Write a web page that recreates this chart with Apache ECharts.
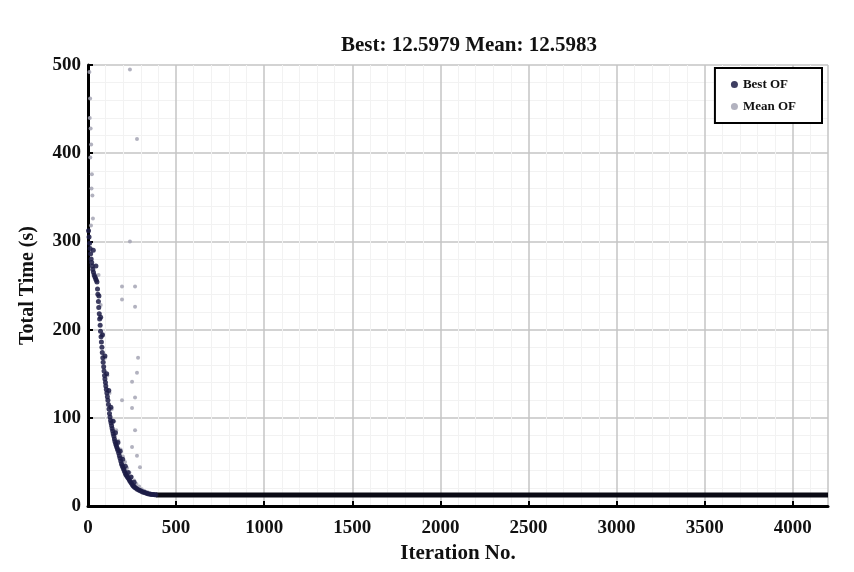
<!DOCTYPE html>
<html><head><meta charset="utf-8">
<script src="https://cdn.jsdelivr.net/npm/echarts@6/dist/echarts.min.js"></script>
<style>html,body{margin:0;padding:0;background:#fff}#c{width:854px;height:572px}</style>
</head><body><div id="c"></div>
<script>
var titleText = 'Best: 12.5979 Mean: 12.5983';
var xTicks = [0,500,1000,1500,2000,2500,3000,3500,4000];
var yTicks = [0,100,200,300,400,500];
// Best OF: [iteration, total time]
var bestOF = [[3,312],[6,305],[9,298],[12,292],[15,286],[18,280],[21,276],[24,272],[27,268],[31,265],[35,262],[39,260],[43,258],[47,256],[51,254],[54,246],[56,240],[59,232],[61,225],[64,218],[66,212],[69,205],[71,198],[74,192],[76,186],[79,180],[81,174],[84,168],[86,163],[89,158],[91,153],[94,148],[96,144],[99,140],[101,136],[104,132],[107,128],[110,124],[113,120],[116,115],[119,110],[122,105],[125,101],[128,97],[131,94],[134,91],[137,88],[140,85],[143,82],[147,79],[150,76],[153,73],[157,71],[160,69],[163,67],[167,65],[170,63],[174,60],[178,57],[182,54],[186,51],[190,48],[194,46],[198,44],[202,42],[206,40],[210,38],[214,36],[218,35],[222,33.5],[227,32],[232,30.5],[236,29],[241,27.5],[246,26],[251,24.5],[256,23],[261,22],[266,21],[273,20],[280,19],[288,18.2],[295,17.5],[303,16.7],[310,16],[318,15.5],[325,15],[333,14.5],[340,14],[348,13.6],[355,13.3],[363,13.1],[370,12.9],[378,12.8],[385,12.7],
  [30,290],[45,272],[62,238],[72,214],[82,194],[96,170],[106,150],[118,131],[130,112],[142,96],[156,83],[170,72],[183,62],[197,53],[212,45],[228,38],[244,33],[262,27]];
// converged tail of Best OF
var bestTail = [[385,12.6],[4200,12.6]];
// Mean OF: [iteration, total time]
var meanOF = [[8,492],[12,462],[10,440],[15,428],[18,410],[13,395],[22,376],[20,360],[25,352],[28,326],[17,318],[238,495],[278,416],[238,300],[193,249],[267,249],[193,234],[267,226],[284,168],[278,151],[250,141],[267,123],[193,120],[250,111],[267,86],[250,67],[278,57],[295,44],[60,262],[72,228],[85,195],[98,168],[110,148],[122,128],[135,110],[148,96],[160,86],[172,74],[185,64],[198,56],[210,50],[222,43],[235,38],[248,33],[262,29],[275,25],[290,22],[305,19],[320,17],[338,15.5],[355,14.3],[372,13.5],[390,13]];

var serif = 'Liberation Serif';
var chart = echarts.init(document.getElementById('c'), null, {renderer:'canvas'});
chart.setOption({
  animation:false,
  backgroundColor:'#fff',
  title:{text:titleText,left:464,top:30,textAlign:'center',
    textStyle:{fontFamily:serif,fontWeight:'bold',fontSize:21,color:'#111'}},
  legend:{data:['Best OF','Mean OF'],orient:'vertical',right:32,top:68,
    borderColor:'#000',borderWidth:2,padding:[10,26,10,16],itemGap:9,
    itemWidth:7,itemHeight:7,backgroundColor:'#fff',
    textStyle:{fontFamily:serif,fontWeight:'bold',fontSize:13,color:'#111'}},
  grid:{left:88,right:26,top:65,bottom:66},
  xAxis:{type:'value',min:0,max:4200,interval:500,
    name:'Iteration No.',nameLocation:'middle',nameGap:36,
    nameTextStyle:{fontFamily:serif,fontWeight:'bold',fontSize:21,color:'#111'},
    axisLine:{lineStyle:{color:'#000',width:3}},
    axisTick:{inside:true,length:5,lineStyle:{color:'#000',width:2}},
    axisLabel:{margin:13,showMaxLabel:false,fontFamily:serif,fontWeight:'bold',fontSize:19,color:'#111',
      formatter:function(v){return xTicks.indexOf(v)>=0?String(v):'';}},
    splitLine:{show:true,lineStyle:{color:'#c4c4c4',width:1.5}},
    minorTick:{show:false,splitNumber:5},
    minorSplitLine:{show:true,lineStyle:{color:'#f2f2f2',width:1}}},
  yAxis:{type:'value',min:0,max:500,interval:100,
    name:'Total Time (s)',nameLocation:'middle',nameGap:50,
    nameTextStyle:{fontFamily:serif,fontWeight:'bold',fontSize:20,color:'#111'},
    axisLine:{show:true,lineStyle:{color:'#000',width:3}},
    axisTick:{show:true,inside:true,length:5,lineStyle:{color:'#000',width:2}},
    axisLabel:{margin:7,fontFamily:serif,fontWeight:'bold',fontSize:19,color:'#111',
      formatter:function(v){return yTicks.indexOf(v)>=0?String(v):'';}},
    splitLine:{show:true,lineStyle:{color:'#c4c4c4',width:1.5}},
    minorTick:{show:false,splitNumber:5},
    minorSplitLine:{show:true,lineStyle:{color:'#f2f2f2',width:1}}},
  series:[
    {name:'Mean OF',type:'scatter',data:meanOF,symbol:'circle',symbolSize:4,
      itemStyle:{color:'#a4a4b4',opacity:0.85},z:3},
    {name:'Best OF',type:'scatter',data:bestOF,symbol:'circle',symbolSize:5,
      itemStyle:{color:'#1c1c46',opacity:0.85},z:4},
    {name:'BestTail',type:'line',data:bestTail,symbol:'none',
      lineStyle:{color:'#0a0a14',width:5},z:4}
  ]
});
</script></body></html>
